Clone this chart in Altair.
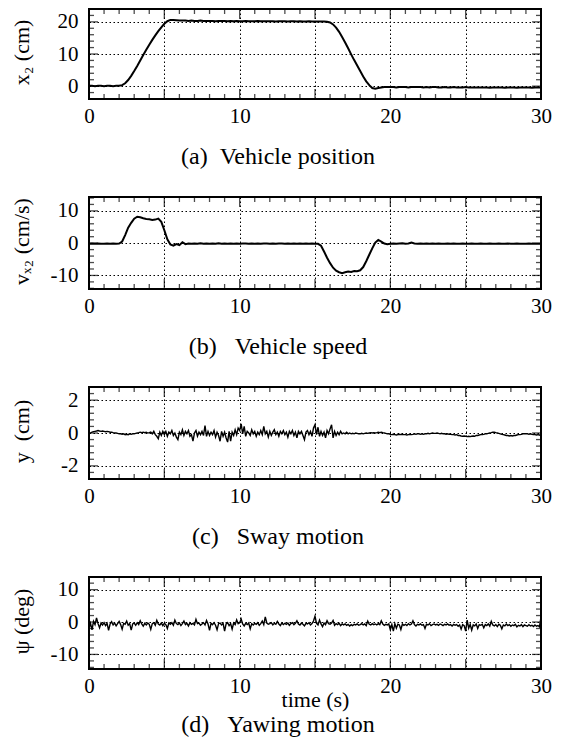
import altair as alt
import pandas as pd

FONT = "Liberation Serif"

# ---- panels (a), (b): samples every 0.2 s from 0 to 30 s ----
x2_vals = [
    0.1, 0.1, 0.0, 0.1, 0.1, 0.0, 0.1, 0.1, 0.0, 0.1,
    0.1, 0.3, 0.9, 1.9, 3.2, 4.7, 6.3, 8.0, 9.7, 11.3,
    12.9, 14.4, 15.8, 17.1, 18.3, 19.4, 20.2, 20.6, 20.6, 20.5,
    20.4, 20.4, 20.4, 20.3, 20.4, 20.3, 20.3, 20.4, 20.3, 20.3,
    20.3, 20.3, 20.2, 20.3, 20.3, 20.3, 20.2, 20.3, 20.2, 20.3,
    20.2, 20.2, 20.3, 20.2, 20.2, 20.2, 20.3, 20.2, 20.2, 20.2,
    20.2, 20.2, 20.1, 20.2, 20.2, 20.2, 20.1, 20.2, 20.2, 20.1,
    20.2, 20.1, 20.1, 20.2, 20.1, 20.1, 20.1, 20.1, 20.1, 20.0,
    19.8, 19.2, 18.2, 16.9, 15.3, 13.6, 11.8, 9.9, 8.1, 6.4,
    4.7, 3.0, 1.5, 0.3, -0.6, -0.8, -0.6, -0.4, -0.3, -0.3,
    -0.3, -0.3, -0.4, -0.3, -0.3, -0.3, -0.4, -0.3, -0.3, -0.3,
    -0.3, -0.4, -0.3, -0.4, -0.3, -0.3, -0.4, -0.4, -0.3, -0.4,
    -0.4, -0.3, -0.4, -0.4, -0.4, -0.3, -0.4, -0.4, -0.4, -0.4,
    -0.4, -0.4, -0.4, -0.5, -0.4, -0.4, -0.4, -0.4, -0.5, -0.4,
    -0.4, -0.4, -0.5, -0.4, -0.4, -0.4, -0.4, -0.5, -0.4, -0.4,
    -0.4,
]

vx2_vals = [
    -0.2, -0.1, -0.2, -0.1, -0.2, -0.2, -0.1, -0.2, -0.1, -0.2,
    -0.1, 0.5, 2.5, 4.8, 6.3, 7.6, 8.2, 8.0, 7.7, 7.5,
    7.4, 7.2, 7.3, 7.6, 6.6, 4.0, 1.2, -0.4, -0.8, -0.3,
    -0.6, 0.3, -0.3, -0.1, -0.2, -0.1, -0.2, 0.0, -0.2, -0.1,
    -0.2, -0.1, -0.2, 0.0, -0.2, -0.1, -0.2, -0.1, -0.2, -0.1,
    -0.2, -0.1, -0.1, -0.2, -0.1, -0.2, -0.1, -0.2, -0.1, -0.1,
    -0.2, -0.1, -0.2, -0.1, -0.1, -0.2, -0.1, -0.2, -0.1, -0.2,
    -0.1, -0.2, -0.1, -0.2, -0.1, -0.2, -0.2, -0.8, -2.6, -4.5,
    -6.2, -7.6, -8.5, -9.0, -9.3, -9.0, -8.8, -8.9, -8.6, -8.7,
    -8.4, -7.4, -5.6, -3.6, -1.6, 0.2, 1.0, 0.5, -0.1, -0.3,
    -0.2, -0.1, -0.2, -0.1, 0.0, -0.2, -0.1, 0.2, -0.1, -0.2,
    -0.1, -0.2, -0.1, -0.2, -0.1, -0.2, -0.1, -0.2, -0.2, -0.1,
    -0.2, -0.1, -0.2, -0.2, -0.1, -0.2, -0.2, -0.1, -0.2, -0.2,
    -0.1, -0.2, -0.2, -0.1, -0.2, -0.2, -0.1, -0.2, -0.2, -0.1,
    -0.2, -0.2, -0.1, -0.2, -0.2, -0.2, -0.1, -0.2, -0.2, -0.2,
    -0.2,
]

# ---- panels (c), (d): samples every 0.1 s from 0 to 30 s ----
y_vals = [
    -0.05, 0.0, 0.05, 0.08, 0.1, 0.12, 0.15, 0.12, 0.1, 0.12,
    0.1, 0.08, 0.1, 0.08, 0.05, 0.05, 0.02, 0.0, 0.0, -0.02,
    -0.05, -0.05, -0.08, -0.05, -0.1, -0.08, -0.1, -0.05, -0.08, -0.05,
    -0.05, -0.02, 0.0, 0.02, 0.05, 0.02, 0.05, 0.02, 0.05, 0.0,
    0.02, 0.05, -0.05, 0.1, -0.1, -0.2, -0.35, 0.05, -0.15, 0.1,
    -0.1, 0.1, -0.2, 0.05, -0.05, 0.15, -0.15, 0.0, -0.25, -0.4,
    0.05, -0.1, 0.2, -0.15, 0.1, -0.05, 0.15, -0.2, -0.1, -0.5,
    0.0, 0.15, -0.2, 0.05, -0.1, 0.1, -0.15, 0.45, -0.2, 0.1,
    -0.15, 0.05, -0.1, 0.15, -0.25, 0.05, -0.15, -0.5, 0.1, -0.2,
    0.05, -0.3, -0.55, 0.1, -0.5, 0.05, -0.15, 0.2, -0.1, 0.3,
    0.15, 0.55, -0.05, 0.4, -0.2, 0.1, 0.0, -0.15, 0.2, -0.05,
    0.1, -0.2, 0.05, -0.1, 0.15, -0.1, 0.4, -0.05, 0.1, -0.25,
    0.1, -0.15, 0.05, 0.2, -0.1, 0.05, -0.2, 0.1, -0.05, 0.15,
    -0.1, 0.05, -0.25, 0.1, -0.05, 0.15, -0.15, 0.05, -0.3, 0.1,
    -0.05, 0.1, -0.15, -0.4, 0.05, 0.15, -0.1, 0.1, -0.2, 0.3,
    0.5, -0.1, 0.35, -0.2, 0.1, -0.15, 0.05, -0.3, 0.15, -0.05,
    0.25, 0.5, -0.3, 0.1, -0.15, 0.05, -0.1, 0.1, -0.05, 0.0,
    -0.05, 0.05, -0.05, 0.0, -0.05, -0.02, -0.05, 0.0, -0.02, -0.05,
    -0.05, -0.02, -0.05, -0.02, 0.0, -0.02, 0.0, 0.02, 0.0, 0.02,
    0.0, 0.02, 0.05, 0.02, 0.05, 0.02, 0.0, -0.02, -0.05, -0.05,
    -0.08, -0.1, -0.08, -0.1, -0.12, -0.1, -0.08, -0.1, -0.08, -0.1,
    -0.1, -0.12, -0.1, -0.08, -0.1, -0.08, -0.05, -0.08, -0.05, -0.05,
    -0.08, -0.05, -0.08, -0.05, -0.05, -0.02, -0.05, -0.02, 0.0, -0.02,
    -0.02, 0.0, -0.02, -0.05, -0.02, -0.05, -0.05, -0.08, -0.05, -0.08,
    -0.08, -0.1, -0.1, -0.12, -0.1, -0.15, -0.15, -0.18, -0.2, -0.18,
    -0.2, -0.22, -0.2, -0.22, -0.2, -0.18, -0.2, -0.15, -0.15, -0.12,
    -0.1, -0.1, -0.08, -0.05, -0.05, -0.02, 0.0, 0.02, 0.05, 0.05,
    0.02, 0.0, -0.02, -0.05, -0.08, -0.1, -0.12, -0.15, -0.15, -0.18,
    -0.15, -0.18, -0.15, -0.15, -0.12, -0.1, -0.1, -0.08, -0.05, -0.05,
    -0.05, -0.05, -0.08, -0.05, -0.08, -0.1, -0.1, -0.12, -0.1, -0.12,
    -0.15,
]

psi_vals = [
    -2.0, -0.4, -2.4, 0.2, -0.8, 1.3, -0.5, -1.8, -0.3, -0.9,
    -0.2, -1.1, -0.4, -2.6, -0.6, 0.1, -0.9, -0.3, -1.2, -0.5,
    0.2, -0.8, -2.2, -0.4, -0.7, 0.3, -1.0, -0.5, -2.5, -0.6,
    -0.3, -1.0, -0.2, -0.8, 0.4, -0.6, -1.3, -0.4, -0.9, -0.3,
    -0.7, -2.3, -0.5, -0.2, -1.0, 0.5, -0.6, -0.9, -0.3, -1.1,
    -0.4, -0.8, -2.0, -0.3, -0.7, -0.2, -1.0, 0.6, -0.5, -0.8,
    -0.3, -1.1, -0.5, 0.3, -0.8, -0.4, -1.2, -0.2, -0.7, -0.4,
    -0.9, 0.8, -0.5, -0.3, -1.0, -0.6, -0.2, -0.9, 0.5, -0.6,
    -2.6, -0.4, -0.8, -0.2, -1.0, -2.4, -0.5, -0.3, -0.9, -0.4,
    -2.8, -0.6, -0.2, -1.1, -0.5, -2.2, -0.3, -0.8, 0.7, -0.5,
    -0.2, 0.9, -0.6, -1.2, -0.4, -0.8, -0.3, -2.1, -0.5, -0.9,
    -0.4, -0.7, -0.2, -1.0, -0.5, 0.3, -0.8, 1.6, -0.3, -0.7,
    -0.5, -0.2, -0.9, -0.4, -0.7, 0.2, -0.6, -1.1, -0.3, -0.8,
    -0.4, -0.7, -0.3, -1.0, -0.5, -0.2, -0.8, -0.4, 0.4, -0.6,
    -0.9, -0.3, -0.7, -1.2, -0.4, -0.6, -0.2, -0.9, -0.5, 0.3,
    1.8, -0.4, -0.9, 0.6, -0.6, -1.4, -0.3, -0.8, 0.4, -0.5,
    -0.7, -0.3, 0.5, -1.0, -0.5, -0.8, -0.4, -1.1, -0.6, -0.9,
    -0.6, -1.0, -0.7, -1.2, -0.8, -1.1, -0.7, -0.9, -0.6, -1.0,
    -0.8, -0.5, -0.9, -0.6, -1.1, 0.3, -0.7, -0.9, -0.5, -0.8,
    -0.6, -0.9, -0.5, -0.8, 0.4, -0.6, -1.0, -0.7, -0.9, -0.6,
    -2.4, -0.8, -2.8, -0.5, -1.9, -0.7, -0.9, -2.3, -0.6, -1.0,
    -0.7, -1.1, -0.5, -0.9, -0.6, 0.4, -0.8, -1.2, -0.7, -0.9,
    -0.6, -1.0, -0.8, -2.0, -0.7, -0.9, -0.5, -1.1, -0.8, -0.6,
    -0.9, -0.7, -1.0, -0.6, -0.8, -1.1, -0.7, -0.9, -0.6, -1.0,
    -0.8, -1.2, -0.7, -1.0, -0.8, -1.3, -0.9, -2.2, -0.8, -1.1,
    -2.8, 0.6, -1.9, -0.7, -2.5, -0.9, -1.2, -0.6, -2.0, -0.8,
    -1.0, -0.7, -1.8, -0.8, -1.1, -0.6, -1.3, 0.2, -0.9, -1.2,
    -0.8, -1.4, -0.7, -1.0, -2.1, -0.9, -1.2, -0.6, -1.1, -0.8,
    -1.3, -0.9, -1.1, -0.7, -1.5, -1.0, -1.2, -0.8, -1.4, -0.9,
    -1.1, -1.3, -0.8, -1.2, -1.0, -1.4, -0.9, -1.3, -1.1, -1.5,
    1.6,
]

time_ab = [round(i * 0.2, 1) for i in range(len(x2_vals))]
time_cd = [round(i * 0.1, 1) for i in range(len(y_vals))]

x_grid_at = [0, 5, 10, 15, 20, 25, 30]
x_minor = list(range(0, 31))

captions = [
    "(a)\u00a0\u00a0Vehicle position",
    "(b)\u00a0\u00a0\u00a0Vehicle speed",
    "(c)\u00a0\u00a0\u00a0Sway motion",
    "(d)\u00a0\u00a0\u00a0Yawing motion",
]
y_titles = ["x\u2082 (cm)", "v\u2093\u2082 (cm/s)", "y\u00a0\u00a0(cm)", "\u03c8 (deg)"]
y_domains = [[-4, 24], [-14.2, 14.3], [-2.8, 2.8], [-14.5, 13.9]]
y_major = [[0, 10, 20], [-10, 0, 10], [-2, 0, 2], [-10, 0, 10]]
y_minor = [
    list(range(-4, 25, 2)),
    list(range(-14, 15, 2)),
    [round(-2.8 + 0.4 * k, 1) for k in range(15)],
    list(range(-14, 14, 2)),
]
heights = [90, 92, 92, 92]

LABEL_EXPR_Y = "datum.value < 0 ? '-' + format(-datum.value, 'd') : format(datum.value, 'd')"


def panel(times, vals, idx, lw, xtitle=None, cap_offset=19):
    h = heights[idx]
    dom = y_domains[idx]
    df = pd.DataFrame({"t": times, "v": vals})
    xs = alt.Scale(domain=[0, 30], nice=False, zero=False)
    ys = alt.Scale(domain=dom, nice=False, zero=False)
    xaxis_kw = dict(
        values=x_grid_at,
        labelExpr="indexof([0,10,20,30], datum.value) >= 0 ? datum.label : ''",
        grid=True, ticks=False, domain=False, labelFlush=False,
        labelPadding=6, labelBaseline="top",
    )
    if xtitle:
        xaxis = alt.Axis(title=xtitle, titleY=37, titleBaseline="alphabetic", **xaxis_kw)
    else:
        xaxis = alt.Axis(title=None, **xaxis_kw)
    yaxis = alt.Axis(
        values=y_major[idx], grid=True, ticks=False, domain=False,
        labelPadding=11, labelExpr=LABEL_EXPR_Y,
        title=y_titles[idx], titleX=-68, titleY=h / 2 - 2, titleAngle=-90,
        titleBaseline="middle", titleAlign="center",
    )
    line = alt.Chart(df).mark_line(color="black", strokeWidth=lw, clip=True).encode(
        x=alt.X("t:Q", scale=xs, axis=xaxis),
        y=alt.Y("v:Q", scale=ys, axis=yaxis),
    )
    xt = pd.DataFrame({"p": x_minor, "len": [20 if p % 5 == 0 else 10 for p in x_minor]})
    yt = pd.DataFrame({"p": y_minor[idx],
                       "len": [18 if any(abs(p - m) < 1e-6 for m in y_major[idx]) else 10
                               for p in y_minor[idx]]})
    layers = [line]
    for edge in (dom[0], dom[1]):
        layers.append(
            alt.Chart(xt).mark_tick(orient="vertical", color="black", thickness=1.3, clip=True).encode(
                x=alt.X("p:Q", scale=xs, axis=xaxis),
                y=alt.YDatum(edge, scale=ys, axis=yaxis),
                size=alt.Size("len:Q", scale=None, legend=None),
            )
        )
    for edge in (0, 30):
        layers.append(
            alt.Chart(yt).mark_tick(orient="horizontal", color="black", thickness=1.3, clip=True).encode(
                x=alt.XDatum(edge, scale=xs, axis=xaxis),
                y=alt.Y("p:Q", scale=ys, axis=yaxis),
                size=alt.Size("len:Q", scale=None, legend=None),
            )
        )
    return alt.layer(*layers).properties(
        width=452, height=h,
        title=alt.TitleParams(
            text=captions[idx], orient="bottom", anchor="middle", dx=-37,
            offset=cap_offset, fontSize=24, font=FONT, fontWeight="normal", color="black",
        ),
    )


chart = alt.vconcat(
    panel(time_ab, x2_vals, 0, 2.0),
    panel(time_ab, vx2_vals, 1, 2.0),
    panel(time_cd, y_vals, 2, 1.4),
    panel(time_cd, psi_vals, 3, 1.4, xtitle="time (s)", cap_offset=3),
    spacing=26,
).configure_view(
    stroke="black", strokeWidth=2
).configure_axis(
    labelFont=FONT, labelFontSize=21, labelColor="black",
    titleFont=FONT, titleFontSize=22, titleFontWeight="normal", titleColor="black",
    gridColor="black", gridDash=[1.5, 2.5], gridWidth=1, gridOpacity=1,
).properties(
    padding={"left": 9, "top": 8, "right": 5, "bottom": 5},
    background="white",
)

chart.save("out.html", embed_options={"renderer": "svg", "actions": False})
